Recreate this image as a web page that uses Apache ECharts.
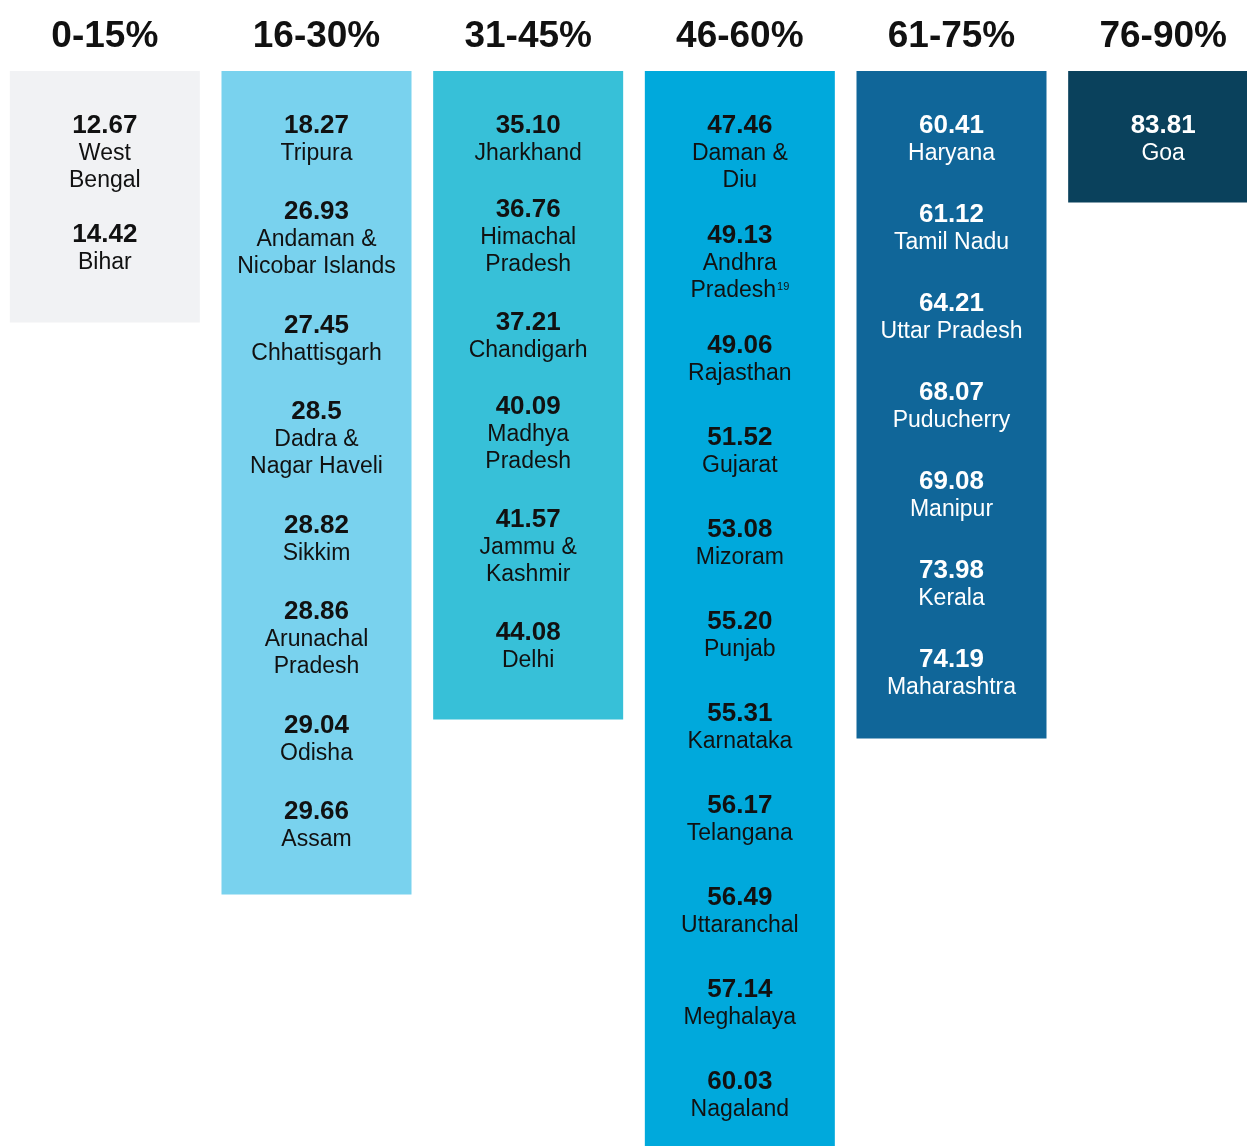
<!DOCTYPE html>
<html>
<head>
<meta charset="utf-8">
<script src="https://cdn.jsdelivr.net/npm/echarts@6/dist/echarts.min.js"></script>
<style>
  html, body { margin: 0; padding: 0; background: #fff; }
  #chart { width: 1247px; height: 1146px; }
</style>
</head>
<body>
<div id="chart"></div>
<script>
// bands and the states that fall in each
var groups = ['0-15%', '16-30%', '31-45%', '46-60%', '61-75%', '76-90%'];

var band1Values = ['12.67', '14.42'];
var band1States = ['West\nBengal', 'Bihar'];

var band2Values = ['18.27', '26.93', '27.45', '28.5', '28.82', '28.86', '29.04', '29.66'];
var band2States = ['Tripura', 'Andaman &\nNicobar Islands', 'Chhattisgarh', 'Dadra &\nNagar Haveli',
  'Sikkim', 'Arunachal\nPradesh', 'Odisha', 'Assam'];

var band3Values = ['35.10', '36.76', '37.21', '40.09', '41.57', '44.08'];
var band3States = ['Jharkhand', 'Himachal\nPradesh', 'Chandigarh', 'Madhya\nPradesh', 'Jammu &\nKashmir', 'Delhi'];

var band4Values = ['47.46', '49.13', '49.06', '51.52', '53.08', '55.20', '55.31', '56.17', '56.49', '57.14', '60.03'];
var band4States = ['Daman &\nDiu', 'Andhra\nPradesh', 'Rajasthan', 'Gujarat', 'Mizoram', 'Punjab',
  'Karnataka', 'Telangana', 'Uttaranchal', 'Meghalaya', 'Nagaland'];

var band5Values = ['60.41', '61.12', '64.21', '68.07', '69.08', '73.98', '74.19'];
var band5States = ['Haryana', 'Tamil Nadu', 'Uttar Pradesh', 'Puducherry', 'Manipur', 'Kerala', 'Maharashtra'];

var band6Values = ['83.81'];
var band6States = ['Goa'];

var footnotes = { 'Andhra\nPradesh': '19' };

// layout / style
var fontFamily = "'Liberation Sans', Arial, sans-serif";
var boxColors = ['#f1f2f4', '#79d2ee', '#37c0d8', '#00a9dc', '#106699', '#0a415c'];
var textColors = ['#111', '#111', '#111', '#111', '#fff', '#fff'];
var firstRow = 55;
var rowStep = [85, 86, 84, 92, 89, 85];
var extraLine = [24, 28, 29, 18, 27, 27];
var boxPad = [62, 57, 61, 55, 53, 51];

var bands = [
  [band1Values, band1States],
  [band2Values, band2States],
  [band3Values, band3States],
  [band4Values, band4States],
  [band5Values, band5States],
  [band6Values, band6States]
];

var entries = [];
var boxes = [];
bands.forEach(function (band, c) {
  var vals = band[0];
  var names = band[1];
  var y = firstRow;
  var lines = 1;
  for (var i = 0; i < vals.length; i++) {
    lines = names[i].split('\n').length;
    entries.push({ col: c, y: y, value: vals[i], name: names[i] });
    if (i < vals.length - 1) {
      y += rowStep[c] + (lines - 1) * extraLine[c];
    }
  }
  boxes.push({
    value: y - 2 + 27.5 + (lines - 1) * 27 + boxPad[c],
    itemStyle: { color: boxColors[c] }
  });
});

function entryText(e) {
  var s = '{v|' + e.value + '}\n{n|' + e.name + '}';
  if (footnotes[e.name]) {
    s += '{s|' + footnotes[e.name] + '}';
  }
  return s;
}

var chart = echarts.init(document.getElementById('chart'));

chart.setOption({
  animation: false,
  grid: { left: -1, right: -22, top: 71, bottom: 0, outerBoundsMode: 'none', containLabel: false },
  xAxis: {
    type: 'category',
    position: 'top',
    data: groups,
    axisLine: { show: false },
    axisTick: { show: false },
    axisLabel: {
      margin: 16,
      color: '#111',
      fontSize: 37,
      fontWeight: 'bold',
      fontFamily: fontFamily
    }
  },
  yAxis: {
    type: 'value',
    inverse: true,
    min: 0,
    max: 1075,
    show: false,
    splitLine: { show: false }
  },
  series: [
    {
      type: 'bar',
      data: boxes,
      barWidth: 190,
      silent: true
    },
    {
      type: 'custom',
      silent: true,
      z: 10,
      data: entries.map(function (e) { return [e.col, e.y]; }),
      encode: { x: 0, y: 1 },
      renderItem: function (params, api) {
        var e = entries[params.dataIndex];
        var p = api.coord([e.col, e.y]);
        var color = textColors[e.col];
        return {
          type: 'text',
          x: p[0],
          y: p[1] - 14,
          style: {
            text: entryText(e),
            align: 'center',
            verticalAlign: 'top',
            fill: color,
            fontFamily: fontFamily,
            rich: {
              v: { fontSize: 26, fontWeight: 'bold', lineHeight: 28, fill: color, fontFamily: fontFamily },
              n: { fontSize: 23, lineHeight: 27, fill: color, fontFamily: fontFamily },
              s: { fontSize: 11, lineHeight: 11, verticalAlign: 'top', padding: [4, 0, 0, 1], fill: color, fontFamily: fontFamily }
            }
          }
        };
      }
    }
  ]
});
</script>
</body>
</html>
